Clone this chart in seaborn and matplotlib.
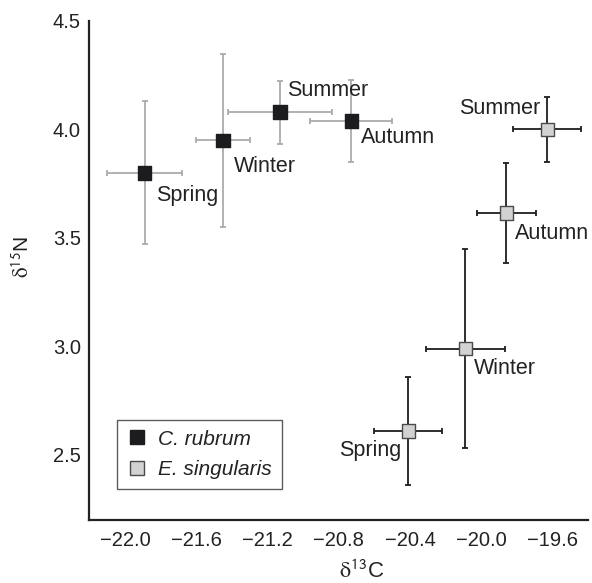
import numpy as np
import pandas as pd
import matplotlib
matplotlib.use("Agg")
import matplotlib.pyplot as plt
import seaborn as sns
from matplotlib.lines import Line2D

# ---- data ----
seasons = ["Spring", "Winter", "Summer", "Autumn"]
species = ["C. rubrum", "E. singularis"]

c_rubrum_d13C = [-21.89, -21.45, -21.13, -20.73]
c_rubrum_d13C_err = [0.21, 0.15, 0.29, 0.23]
c_rubrum_d15N = [3.80, 3.95, 4.08, 4.04]
c_rubrum_d15N_err = [0.33, 0.40, 0.145, 0.19]

e_sing_d13C = [-20.41, -20.09, -19.63, -19.86]
e_sing_d13C_err = [0.19, 0.22, 0.19, 0.165]
e_sing_d15N = [2.61, 2.99, 4.00, 3.615]
e_sing_d15N_err = [0.25, 0.46, 0.15, 0.232]

x_ticks = [-22.0, -21.6, -21.2, -20.8, -20.4, -20.0, -19.6]
y_ticks = [2.5, 3.0, 3.5, 4.0, 4.5]

df = pd.DataFrame({
    "species": [species[0]] * 4 + [species[1]] * 4,
    "season": seasons + seasons,
    "d13C": c_rubrum_d13C + e_sing_d13C,
    "d13C_err": c_rubrum_d13C_err + e_sing_d13C_err,
    "d15N": c_rubrum_d15N + e_sing_d15N,
    "d15N_err": c_rubrum_d15N_err + e_sing_d15N_err,
})

# ---- style ----
sns.set_style("white")
plt.rcParams["font.family"] = ["Liberation Sans", "DejaVu Sans"]
plt.rcParams["mathtext.fontset"] = "stix"

fill = {species[0]: "#1c1c1e", species[1]: "#d2d2d2"}
edge = {species[0]: "#1c1c1e", species[1]: "#4a4a4a"}
ecol = {species[0]: "#ababab", species[1]: "#1e1e1e"}

# label offsets (points) and alignment per (species, season)
offsets = {
    (species[0], "Spring"): (8, -16, "left"),
    (species[0], "Winter"): (8, -19, "left"),
    (species[0], "Summer"): (5, 15.5, "left"),
    (species[0], "Autumn"): (7, -12, "left"),
    (species[1], "Spring"): (-5, -14, "right"),
    (species[1], "Winter"): (6, -14, "left"),
    (species[1], "Summer"): (-5, 15, "right"),
    (species[1], "Autumn"): (6.5, -14.5, "left"),
}

fig = plt.figure(figsize=(5.92, 5.83), dpi=100)
ax = fig.add_axes([89.3 / 592, 63 / 583, 499 / 592, 499 / 583])

for sp in species:
    sub = df[df.species == sp]
    ax.errorbar(sub.d13C, sub.d15N, xerr=sub.d13C_err, yerr=sub.d15N_err,
                fmt="none", ecolor=ecol[sp], elinewidth=1.3, capsize=2.4,
                capthick=1.3, zorder=1)

sns.scatterplot(data=df, x="d13C", y="d15N", hue="species", style="species",
                markers={species[0]: "s", species[1]: "s"},
                palette=fill, s=95, ax=ax, zorder=3, linewidth=1.0,
                edgecolor=[edge[s] for s in df.species], legend=False)

for _, r in df.iterrows():
    dx, dy, ha = offsets[(r.species, r.season)]
    ax.annotate(r.season, (r.d13C, r.d15N), xytext=(dx, dy),
                textcoords="offset points", ha=ha, va="center",
                fontsize=15.5, color="#222222")

# legend
handles = [Line2D([], [], linestyle="none", marker="s", markersize=9.5,
                  markerfacecolor=fill[sp], markeredgecolor=edge[sp],
                  markeredgewidth=1.0) for sp in species]
leg = ax.legend(handles, species, loc="lower left",
                bbox_to_anchor=(0.055, 0.063), borderaxespad=0,
                frameon=True, fancybox=False,
                prop={"style": "italic", "size": 15},
                handlelength=1.0, handletextpad=0.55, borderpad=0.45,
                labelspacing=0.55)
leg.get_frame().set_edgecolor("#333333")
leg.get_frame().set_linewidth(1.0)
for t in leg.get_texts():
    t.set_color("#222222")

ax.set_xlim(-22.2, -19.4)
ax.set_ylim(2.2, 4.5)
ax.set_xticks(x_ticks)
ax.set_yticks(y_ticks)
ax.set_xticklabels([f"\u2212{abs(v):.1f}" for v in x_ticks])
ax.set_yticklabels([f"{v:.1f}" for v in y_ticks])
ax.tick_params(direction="in", length=6, width=1.0, labelsize=14.5,
               colors="#222222", pad=6)
ax.tick_params(axis="x", pad=8)

for side in ["top", "right"]:
    ax.spines[side].set_visible(False)
for side in ["left", "bottom"]:
    ax.spines[side].set_linewidth(1.6)
    ax.spines[side].set_color("#222222")

ax.set_xlabel(r"$\mathrm{\delta}^{\mathsf{13}}$C", fontsize=16, color="#222222")
ax.set_ylabel(r"$\mathrm{\delta}^{\mathsf{15}}$N", fontsize=15, color="#222222")
ax.xaxis.set_label_coords(0.545, -0.082)
ax.yaxis.set_label_coords(-0.113, 0.527)

fig.savefig("out.png", dpi=100)
